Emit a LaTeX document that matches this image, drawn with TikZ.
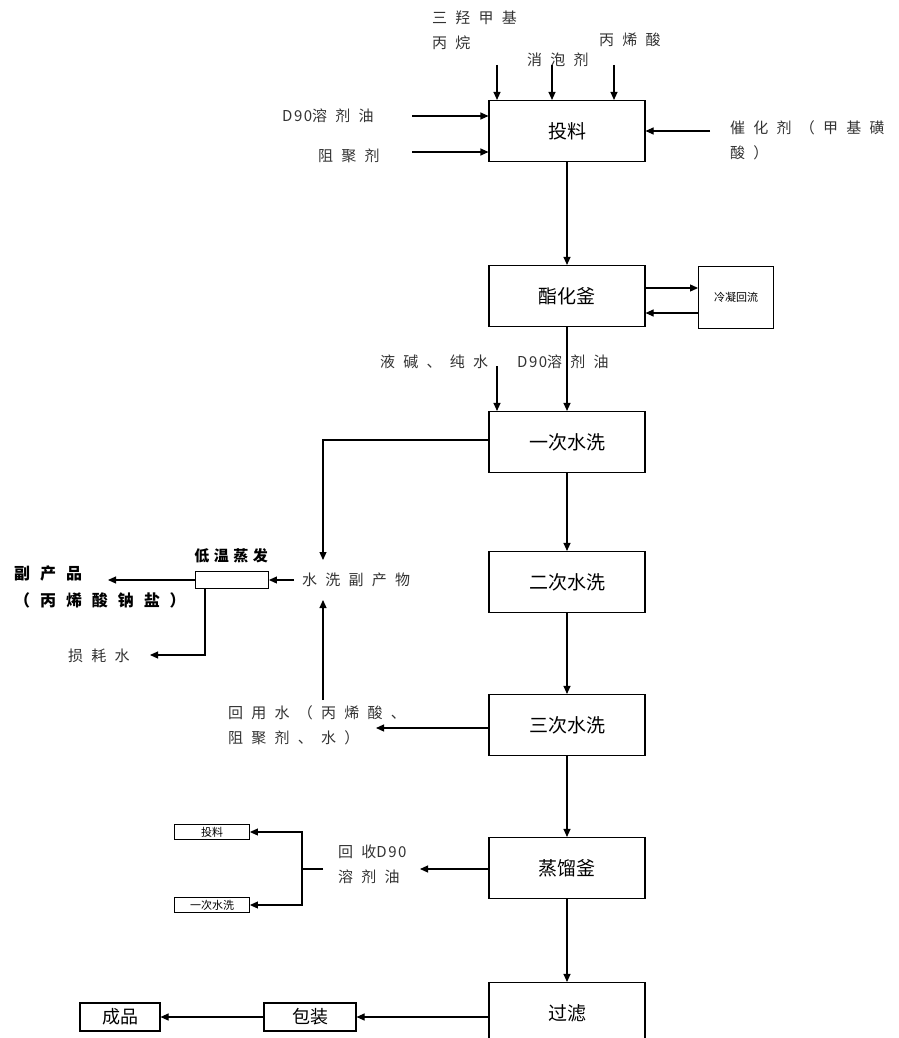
\documentclass[tikz,border=0pt]{standalone}
\usepackage{fontspec}
\setmainfont{Noto Sans CJK SC}
\newfontfamily\lab[LetterSpace=55]{Noto Sans CJK SC}
\newfontfamily\blab[LetterSpace=62]{Noto Sans CJK SC}
\newfontfamily\dlab[LetterSpace=30]{Noto Sans CJK SC}
\newfontfamily\dnf[LetterSpace=10]{Noto Sans CJK SC}
\newcommand{\dn}[1]{{\dnf #1}}
\usetikzlibrary{arrows.meta}
\begin{document}
\begin{tikzpicture}[x=1pt,y=-1pt,
 box/.style={draw, line width=1.1pt, minimum width=156pt, minimum height=61pt, inner sep=0pt, font=\fontsize{19}{22}\selectfont},
 sbox/.style={draw, line width=0.9pt, inner sep=0pt, font=\fontsize{11}{12}\selectfont},
 mbox/.style={draw, line width=1.1pt, inner sep=0pt, minimum height=28pt, font=\fontsize{18}{20}\selectfont},
 lbl/.style={inner sep=0pt, font=\lab\fontsize{15}{25}\selectfont, text=black!80, align=left},
 blbl/.style={inner sep=0pt, font=\blab\bfseries\fontsize{16}{27}\selectfont, align=left},
 arr/.style={line width=1.1pt, -{Triangle[length=8pt,width=7pt]}},
 ln/.style={line width=1.1pt}]
\useasboundingbox (0,0) rectangle (898,1038);
\fill[white] (0,0) rectangle (898,1038);

% main boxes
\node[box] (tl) at (567,131) {投料};
\node[box] (zh) at (567,296) {酯化釜};
\node[box] (yc) at (567,442) {一次水洗};
\node[box] (ec) at (567,582) {二次水洗};
\node[box] (sc) at (567,725) {三次水洗};
\node[box] (zl) at (567,868) {蒸馏釜};
\node[box] (gl) at (567,1013) {过滤};
\node[sbox, minimum width=75pt, minimum height=62pt] (ln) at (736,297) {冷凝回流};
\node[sbox, minimum width=73pt, minimum height=17pt] (dw) at (232,580) {};
\node[sbox, minimum width=75pt, minimum height=15pt] (tl2) at (212,832) {投料};
\node[sbox, minimum width=75pt, minimum height=15pt] (yc2) at (212,905) {一次水洗};
\node[mbox, minimum width=92pt] (bz) at (310,1017) {包装};
\node[mbox, minimum width=80pt] (cp) at (120,1017) {成品};

% labels
\node[lbl, anchor=north west] (sq) at (432,11) {三羟甲基\\丙烷};
\node[lbl, anchor=west] (xpj) at (527,60) {消泡剂};
\node[lbl, anchor=west] (bxs) at (599,40) {丙烯酸};
\node[lbl, anchor=west] (d90) at (282,116) {\dn{D90}溶剂油};
\node[lbl, anchor=west] (zjj) at (318,156) {阻聚剂};
\node[lbl, anchor=north west] (chj) at (730,120) {催化剂（甲基磺\\酸）};
\node[lbl, anchor=west] (yj) at (380,362) {液碱、纯水};
\node[lbl, anchor=west] (d90b) at (517,362) {\dn{D90}溶剂油};
\node[lbl, anchor=west] (sxf) at (302,580) {水洗副产物};
\node[inner sep=0pt, font=\dlab\bfseries\fontsize{15}{18}\selectfont] (dwzf) at (231,556) {低温蒸发};
\node[blbl, anchor=north west] (fcp) at (14,566) {副产品\\（丙烯酸钠盐）};
\node[lbl, anchor=west] (shs) at (68,656) {损耗水};
\node[lbl, anchor=north west] (hys) at (228,705) {回用水（丙烯酸、\\阻聚剂、水）};
\node[lbl, anchor=north west] (hsd) at (338,845) {回收\dn{D90}\\溶剂油};

% coordinates for free ends
\coordinate (a1) at (497,65);
\coordinate (a2) at (552,65);
\coordinate (a3) at (614,65);
\coordinate (a4) at (710,131);
\coordinate (a5) at (412,116);
\coordinate (a6) at (412,152);
\coordinate (a7) at (497,366);
\coordinate (c1) at (323,560);
\coordinate (c2) at (323,700);
\coordinate (c3) at (323,600);
\coordinate (c4) at (376,728);
\coordinate (c5) at (108,580);
\coordinate (c6) at (150,655);
\coordinate (c7) at (420,869);
\coordinate (c8) at (323,869);
\coordinate (br) at (302,869);

% inputs to 投料
\draw[arr] (a1) -- (a1 |- tl.north);
\draw[arr] (a2) -- (a2 |- tl.north);
\draw[arr] (a3) -- (a3 |- tl.north);
\draw[arr] (a4) -- (tl.east);
\draw[arr] (a5) -- (a5 -| tl.west);
\draw[arr] (a6) -- (a6 -| tl.west);

% main chain
\draw[arr] (tl.south) -- (zh.north);
\draw[arr] (zh.south) -- (yc.north);
\draw[arr] (yc.south) -- (ec.north);
\draw[arr] (ec.south) -- (sc.north);
\draw[arr] (sc.south) -- (zl.north);
\draw[arr] (zl.south) -- (gl.north);

% reflux
\draw[arr] ([yshift=8pt]zh.east) -- ([yshift=8pt]zh.east -| ln.west);
\draw[arr] ([yshift=-17pt]zh.east -| ln.west) -- ([yshift=-17pt]zh.east);

% 液碱 input
\draw[arr] (a7) -- (a7 |- yc.north);

% wash by-products
\draw[arr] (yc.west |- 0,440) -| (c1);
\draw[arr] (c2) -- (c3);
\draw[arr] (sc.west |- c4) -- (c4);
\draw[arr, shorten <=8pt] (sxf.west) -- (dw.east);
\draw[arr] (dw.west) -- (c5);
\draw[arr] ([xshift=-27pt]dw.south) |- (c6);

% recovered solvent
\draw[arr] (zl.west |- c7) -- (c7);
\draw[ln] (c8) -- (br);
\draw[arr] (br) |- (tl2.east);
\draw[arr] (br) |- (yc2.east);

% packaging
\draw[arr] (bz.east -| gl.west) -- (bz.east);
\draw[arr] (bz.west) -- (cp.east);
\end{tikzpicture}
\end{document}
